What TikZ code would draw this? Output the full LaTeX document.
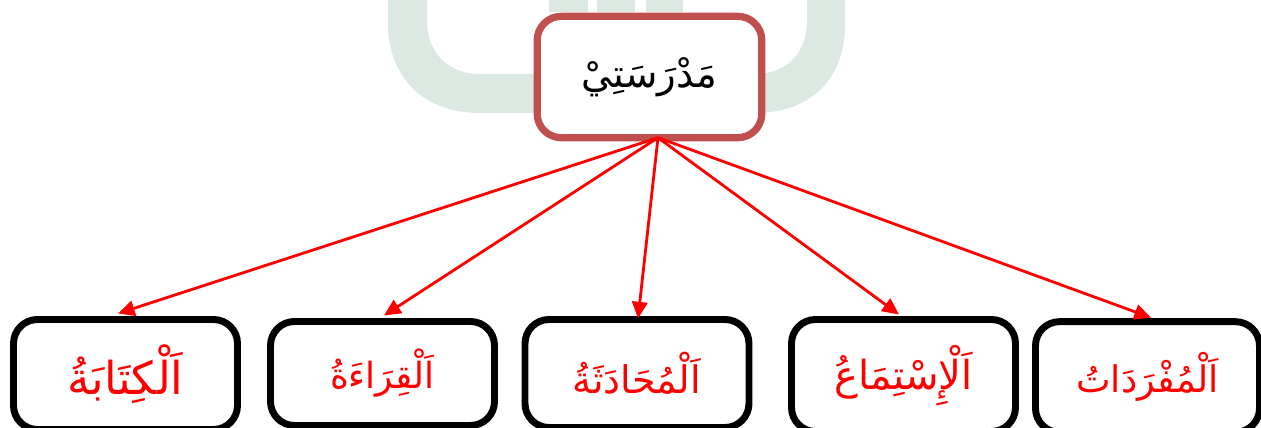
\documentclass[tikz,border=0pt]{standalone}
\usepackage{fontspec}
\usetikzlibrary{calc,arrows.meta}
\TeXXeTstate=1
\newfontfamily\arabicfont[Script=Arabic]{DejaVu Sans}
\definecolor{wmgreen}{HTML}{DCE8E2}
\definecolor{topedge}{HTML}{C0504D}
\newcommand{\artext}[2]{\fontsize{#1}{#1}\selectfont\beginR #2\endR}
\tikzset{
  basebox/.style={rectangle,rounded corners=18pt,fill=white,outer sep=0pt,inner sep=0pt,font=\arabicfont},
  topbox/.style={basebox,draw=topedge,line width=5.4pt,minimum width=168.5pt,minimum height=91pt,text=black},
  leafbox/.style={basebox,draw=black,line width=5.2pt,minimum width=168pt,minimum height=80pt,text=red},
  link/.style={draw=red,line width=2.1pt,-{Triangle[length=12.5pt,width=11.5pt]}}
}
\begin{document}
\begin{tikzpicture}[x=0.75pt,y=-0.75pt]
\useasboundingbox (0,0) rectangle (1261,428);
% faint background watermark
\fill[wmgreen] (388,0) -- (388,30) .. controls (392,85) and (430,113) .. (480,113)
  -- (755,113) .. controls (805,113) and (842,85) .. (845,30) -- (845,0) -- (807,0)
  -- (807,25) .. controls (805,55) and (785,74) .. (755,74) -- (480,74)
  .. controls (450,74) and (429,55) .. (427,25) -- (427,0) -- cycle;
\fill[wmgreen] (549,0) rectangle (588,12);
\fill[wmgreen] (597,0) rectangle (635,12);
\fill[wmgreen] (646,0) rectangle (683,12);
% boxes
\node[topbox] (top) at (649.5,77) {\artext{29pt}{مَدْرَسَتِيْ}};
\node[leafbox,minimum height=82.5pt] (b1) at (125.5,374.5) {\artext{34pt}{اَلْكِتَابَةُ}};
\node[leafbox,minimum height=78pt] (b2) at (382.5,373.5) {\artext{27pt}{اَلْقِرَاءَةُ}};
\node[leafbox,minimum height=81pt] (b3) at (637,373.5) {\artext{28.5pt}{اَلْمُحَادَثَةُ}};
\node[leafbox,minimum height=84pt] (b4) at (903.5,375.5) {\artext{30pt}{اَلْإِسْتِمَاعُ}};
\node[leafbox,minimum height=83pt] (b5) at (1147.5,377) {\artext{27.5pt}{اَلْمُفْرَدَاتُ}};
% connectors
\coordinate (hub) at ($(top.south)+(8.5,0)$);
\draw[link] (hub) -- ($(b1.north)+(-7.5,-6)$);
\draw[link] (hub) -- ($(b2.north)+(1.5,-6)$);
\draw[link] (hub) -- ($(b3.north)+(1,-1)$);
\draw[link] (hub) -- ($(b4.north)+(-4.5,-5)$);
\draw[link] (hub) -- ($(b5.north)+(3.5,-4)$);
\end{tikzpicture}
\end{document}
